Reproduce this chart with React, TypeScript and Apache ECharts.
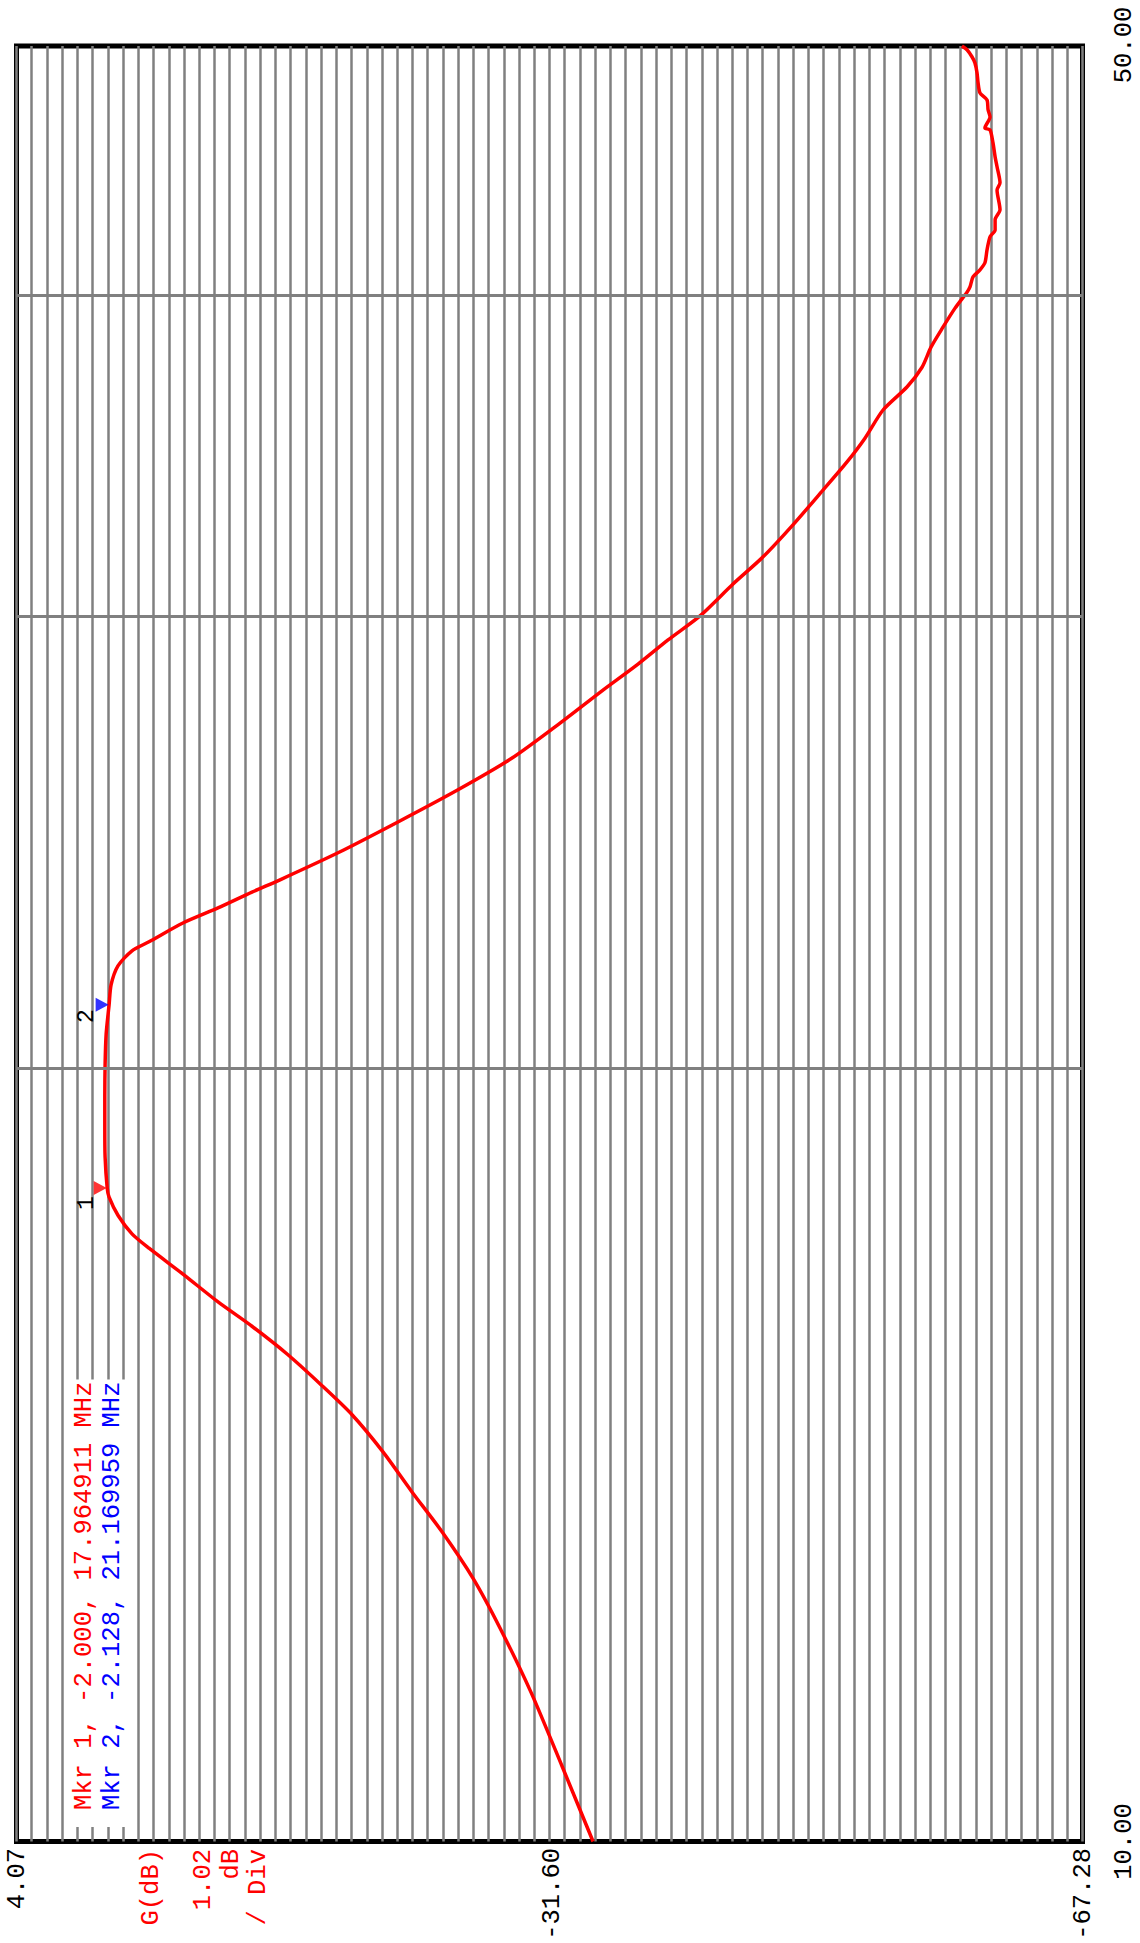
import React, { useEffect, useRef } from 'react';
import * as echarts from 'echarts';

// Frequency sweep (MHz) and measured gain G (dB)
const freqMHz = [
  10.0, 10.7, 11.43, 12.11, 12.66, 13.2, 13.68, 14.18, 14.66, 15.06, 15.48, 15.87, 16.22, 16.63,
  17.02, 17.24, 17.53, 17.82, 17.965, 18.47, 18.99, 19.5, 20.06, 20.62, 21.17, 21.55, 21.92, 22.22,
  22.4, 22.78, 23.09, 23.42, 23.68, 24.26, 24.94, 25.67, 26.41, 27.25, 28.05, 28.73, 29.36, 30.0,
  30.87, 31.63, 32.55, 33.58, 34.44, 35.18, 36.08, 36.83, 37.49, 38.17, 38.86, 39.53, 40.1, 40.29,
  40.65, 40.91, 41.17, 41.65, 42.14, 42.4, 42.79, 43.17, 43.95, 44.23, 44.87, 45.27, 45.84, 46.38,
  46.46, 46.92, 47.22, 47.64, 47.94, 48.38, 48.81, 49.25, 49.52, 49.83, 50.0,
];
const gainDb = [
  -34.52, -32.44, -30.37, -28.29, -26.49, -24.41, -22.4, -20.46, -18.39, -16.31, -14.04, -11.69, -9.42, -7.07,
  -4.8, -3.66, -2.72, -2.12, -2.0, -1.86, -1.84, -1.84, -1.86, -1.93, -2.128, -2.26, -2.72, -3.66,
  -4.8, -7.07, -9.42, -11.69, -13.57, -17.45, -21.46, -25.48, -29.1, -32.31, -35.12, -37.53, -39.54, -41.68,
  -43.89, -45.9, -47.9, -49.91, -51.52, -52.72, -53.93, -55.53, -56.54, -57.14, -57.94, -58.75, -59.55, -59.75,
  -59.95, -60.42, -60.75, -60.89, -61.09, -61.43, -61.43, -61.76, -61.56, -61.76, -61.56, -61.43, -61.29, -61.09,
  -60.75, -61.09, -60.96, -60.89, -60.42, -60.29, -60.22, -60.08, -59.88, -59.55, -59.21,
];

const markerFreq = [17.964911, 21.169959];
const markerGain = [-2.0, -2.128];
const markerNames = ['1', '2'];
const markerColors = ['#ff0000', '#0000ff'];
const markerTexts = ['Mkr 1, -2.000, 17.964911 MHz', 'Mkr 2, -2.128, 21.169959 MHz'];

const freqGridLines = [20, 30, 40];
const dbMin = -67.28;
const dbMax = 4.07;
const dbDivisions = 70;
const freqMin = 10;
const freqMax = 50;

const dbTickLabels = ['4.07', '-31.60', '-67.28'];
const freqTickLabels = ['10.00', '50.00'];
const unitLabels = ['G(dB)', '1.02', 'dB', '/ Div'];

export default function App() {
  const ref = useRef<HTMLDivElement>(null);

  useEffect(() => {
    const chart = echarts.init(ref.current as HTMLDivElement, null, { renderer: 'svg' });
    const font = 'Liberation Mono';

    const rotText = (text: string, x: number, y: number, color: string, align: string, extra: any = {}) => ({
      type: 'text',
      x,
      y,
      rotation: Math.PI / 2,
      z: 10,
      silent: true,
      style: {
        text,
        fill: color,
        fontFamily: font,
        fontSize: 25.5,
        align,
        verticalAlign: 'middle',
        ...extra,
      },
    });

    const graphics: any[] = [
      rotText(dbTickLabels[0], 17.5, 1848, '#000', 'right'),
      rotText(dbTickLabels[1], 552, 1848, '#000', 'right'),
      rotText(dbTickLabels[2], 1083, 1848, '#000', 'right'),
      rotText(freqTickLabels[0], 1124, 1841.5, '#000', 'center'),
      rotText(freqTickLabels[1], 1124, 45, '#000', 'center'),
      rotText(unitLabels[0], 151, 1849, '#ff0000', 'right'),
      rotText(unitLabels[1], 203, 1849, '#ff0000', 'right'),
      rotText(unitLabels[2], 231, 1849, '#ff0000', 'right'),
      rotText(unitLabels[3], 258, 1849, '#ff0000', 'right'),
      rotText(markerTexts[0], 84, 1827, markerColors[0], 'left', {
        backgroundColor: '#fff',
        padding: [1, 2, 1, 17],
        lineHeight: 26,
      }),
      rotText(markerTexts[1], 112, 1827, markerColors[1], 'left', {
        backgroundColor: '#fff',
        padding: [1, 2, 1, 17],
        lineHeight: 26,
      }),
      rotText(markerNames[0], 87, 1203, '#000', 'center', { fontSize: 23 }),
      rotText(markerNames[1], 87, 1016, '#000', 'center', { fontSize: 23 }),
    ];

    const hidden = {
      axisLine: { show: false },
      axisTick: { show: false },
      axisLabel: { show: false },
    };

    const option: any = {
      animation: false,
      backgroundColor: '#ffffff',
      grid: {
        left: 16.5,
        top: 46,
        width: 1066,
        height: 1795.5,
        show: true,
        borderColor: '#000000',
        borderWidth: 5,
        backgroundColor: 'transparent',
      },
      xAxis: [
        {
          type: 'value',
          min: dbMin,
          max: dbMax,
          inverse: true,
          ...hidden,
          splitLine: { show: false },
        },
        {
          type: 'value',
          min: 0,
          max: dbDivisions,
          interval: 1,
          position: 'top',
          ...hidden,
          splitLine: { show: true, lineStyle: { color: '#808080', width: 2.5 } },
        },
      ],
      yAxis: {
        type: 'log',
        logBase: 10,
        min: freqMin,
        max: freqMax,
        ...hidden,
        splitLine: { show: false },
        minorSplitLine: { show: false },
      },
      series: [
        {
          type: 'line',
          xAxisIndex: 0,
          data: [],
          z: 1,
          silent: true,
          markLine: {
            silent: true,
            symbol: 'none',
            animation: false,
            label: { show: false },
            lineStyle: { color: '#808080', width: 3, type: 'solid' },
            emphasis: { disabled: true },
            data: freqGridLines.map((f) => ({ yAxis: f })),
          },
        },
        {
          type: 'line',
          xAxisIndex: 0,
          data: freqMHz.map((f, i) => [gainDb[i], f]),
          showSymbol: false,
          symbol: 'none',
          smooth: 0.25,
          lineStyle: { color: '#ff0000', width: 3.5 },
          z: 3,
          silent: true,
        },
        {
          type: 'scatter',
          xAxisIndex: 0,
          data: markerFreq.map((f, i) => ({
            value: [markerGain[i], f],
            itemStyle: { color: markerColors[i] },
          })),
          symbol: 'triangle',
          symbolSize: [14, 13],
          symbolRotate: -90,
          symbolOffset: [-7, 0],
          z: 4,
          silent: true,
        },
      ],
      graphic: graphics,
    };

    chart.setOption(option);
    return () => {
      chart.dispose();
    };
  }, []);

  return (
    <div
      ref={ref}
      style={{ position: 'absolute', left: 0, top: 0, width: 1140, height: 1943, background: '#fff' }}
    />
  );
}
